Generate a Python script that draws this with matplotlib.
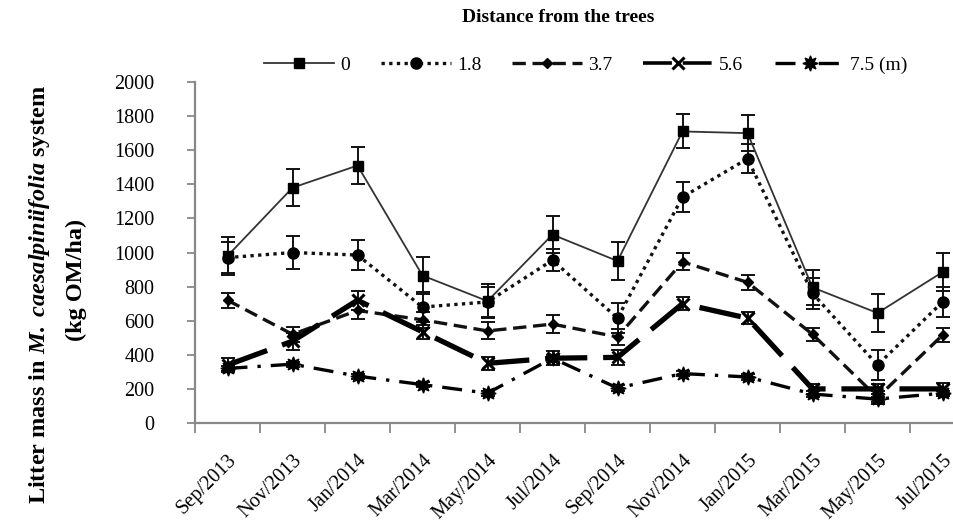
import matplotlib
matplotlib.use("Agg")
import matplotlib.pyplot as plt
from matplotlib.lines import Line2D
import numpy as np

months = ["Sep/2013", "Nov/2013", "Jan/2014", "Mar/2014", "May/2014", "Jul/2014",
          "Sep/2014", "Nov/2014", "Jan/2015", "Mar/2015", "May/2015", "Jul/2015"]

d0 = [980, 1380, 1510, 865, 715, 1105, 950, 1710, 1700, 795, 645, 885]
e0 = [110, 110, 110, 110, 100, 110, 110, 100, 105, 100, 110, 110]
d18 = [970, 1000, 985, 680, 710, 955, 615, 1325, 1550, 760, 340, 710]
e18 = [90, 95, 90, 90, 90, 65, 88, 90, 85, 90, 90, 90]
d37 = [720, 520, 660, 605, 540, 580, 505, 945, 825, 520, 150, 515]
e37 = [45, 45, 50, 45, 50, 55, 45, 50, 45, 40, 40, 40]
d56 = [340, 480, 720, 535, 350, 380, 385, 700, 615, 200, 200, 200]
e56 = [40, 50, 55, 40, 40, 40, 45, 40, 35, 30, 30, 35]
d75 = [320, 345, 275, 225, 175, 380, 205, 290, 270, 170, 140, 175]
e75 = [15, 15, 15, 15, 15, 20, 15, 15, 15, 15, 15, 15]

legend_labels = ["0", "1.8", "3.7", "5.6", "7.5 (m)"]

plt.rcParams['font.family'] = ['Liberation Serif', 'DejaVu Serif']
plt.rcParams['mathtext.fontset'] = 'custom'
plt.rcParams['mathtext.rm'] = 'Liberation Serif:bold'
plt.rcParams['mathtext.it'] = 'Liberation Serif:bold:italic'
plt.rcParams['mathtext.bf'] = 'Liberation Serif:bold'

fig = plt.figure(figsize=(9.54, 5.21), dpi=100)
W, H = 954, 521
ax = fig.add_axes([195 / W, 1 - 423 / H, (975 - 195) / W, (423 - 82) / H])

x = np.arange(len(months))

styles = [
    dict(data=d0, err=e0, ls='-', lw=1.3, color='#333333', marker='s', ms=7, mew=1),
    dict(data=d18, err=e18, ls=(0, (1, 1.3)), lw=2.4, color='#111111', marker='o', ms=8, mew=1),
    dict(data=d37, err=e37, ls=(0, (4, 2)), lw=2.4, color='#111111', marker='D', ms=5, mew=1),
    dict(data=d56, err=e56, ls=(0, (8, 3)), lw=3.8, color='#000000', marker='x', ms=9, mew=2.2),
    dict(data=d75, err=e75, ls=(0, (6, 3, 1, 3)), lw=2.4, color='#000000', marker=(8, 1, 0), ms=11, mew=1),
]

handles = []
for s, lab in zip(styles, legend_labels):
    ax.errorbar(x, s['data'], yerr=s['err'], fmt='none', ecolor='#111111',
                elinewidth=1.4, capsize=5, capthick=1.4, zorder=2)
    ax.plot(x, s['data'], linestyle=s['ls'], lw=s['lw'], color=s['color'],
            marker=s['marker'], ms=s['ms'], mew=s['mew'], mfc='black', mec='black', zorder=3)
    handles.append(Line2D([0], [0], linestyle=s['ls'], lw=min(s['lw'], 2.6), color=s['color'],
                          marker=s['marker'], ms=s['ms'], mew=s['mew'], mfc='black', mec='black'))

ax.set_xlim(-0.5, len(months) - 0.5)
ax.set_ylim(0, 2000)
ax.set_yticks(np.arange(0, 2001, 200))
ax.set_xticks(x)
ax.set_xticklabels(months, rotation=45, ha='right', rotation_mode='anchor', fontsize=14.5)
ax.set_xticks(np.arange(-0.5, len(months), 1), minor=True)
ax.tick_params(axis='x', which='major', length=0, pad=20)
ax.tick_params(axis='x', which='minor', length=7, width=1.3, color='#888888', direction='out')
ax.tick_params(axis='y', which='major', length=6, width=1.3, color='#888888', direction='out',
               pad=23, labelsize=14.5)

for sp in ['top', 'right']:
    ax.spines[sp].set_visible(False)
for sp in ['left', 'bottom']:
    ax.spines[sp].set_color('#888888')
    ax.spines[sp].set_linewidth(1.6)

fig.legend(handles=handles, labels=legend_labels, loc='center', bbox_to_anchor=(586 / W, 1 - 65 / H),
           ncol=5, frameon=False, fontsize=14, handlelength=3.6, columnspacing=1.6,
           handletextpad=0.3)

fig.text(558 / W, 1 - 18 / H, "Distance from the trees", ha='center', va='center',
         fontsize=14, fontweight='bold')

fig.text(40 / W, 1 - 294 / H, r"Litter mass in $\mathit{M.\ caesalpiniifolia}$ system",
         rotation=90, ha='center', va='center', fontsize=17.5, fontweight='bold')
fig.text(76 / W, 1 - 280 / H, "(kg OM/ha)", rotation=90, ha='center', va='center',
         fontsize=17.5, fontweight='bold')

fig.savefig("out.png", dpi=100)
